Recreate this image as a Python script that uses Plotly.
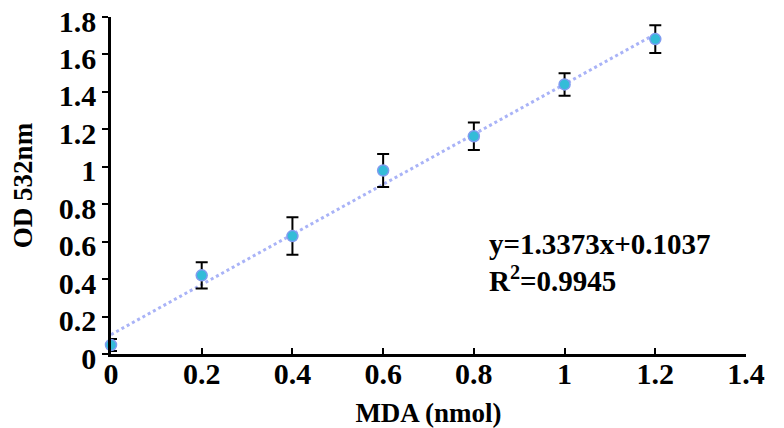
import plotly.graph_objects as go

mda = [0.0, 0.2, 0.4, 0.6, 0.8, 1.0, 1.2]
od = [0.048, 0.42, 0.63, 0.98, 1.163, 1.44, 1.682]
od_err = [0.032, 0.07, 0.1, 0.088, 0.074, 0.06, 0.074]
slope = 1.3373
intercept = 0.1037
r2 = 0.9945
x_ticks = [0, 0.2, 0.4, 0.6, 0.8, 1.0, 1.2, 1.4]
x_tick_labels = ["0", "0.2", "0.4", "0.6", "0.8", "1", "1.2", "1.4"]
y_ticks = [0, 0.2, 0.4, 0.6, 0.8, 1.0, 1.2, 1.4, 1.6, 1.8]
y_tick_labels = ["0", "0.2", "0.4", "0.6", "0.8", "1", "1.2", "1.4", "1.6", "1.8"]

fit_x = [mda[0], mda[-1]]
fit_y = [slope * v + intercept for v in fit_x]

font_family = "Liberation Serif, Times New Roman, serif"

fig = go.Figure()
fig.add_trace(go.Scatter(
    x=fit_x, y=fit_y, mode="lines",
    line=dict(color="#a9b3f7", width=3, dash="dot"),
    hoverinfo="skip", showlegend=False, cliponaxis=False,
))
fig.add_trace(go.Scatter(
    x=mda, y=od, mode="markers",
    marker=dict(size=11, color="#34bcd8", line=dict(color="#7f9cf0", width=1.5)),
    error_y=dict(type="data", array=od_err, visible=True, color="black", thickness=2, width=6),
    showlegend=False, cliponaxis=False,
))

fig.add_annotation(
    x=0.83, y=0.585, xref="x", yref="y", xanchor="left", yanchor="middle",
    text=f"<b>y={slope}x+{intercept}</b>", showarrow=False,
    font=dict(family=font_family, size=29, color="black"),
)
fig.add_annotation(
    x=0.83, y=0.40, xref="x", yref="y", xanchor="left", yanchor="middle",
    text=f"<b>R<sup>2</sup>={r2}</b>", showarrow=False,
    font=dict(family=font_family, size=29, color="black"),
)

# the page body has an 8px margin, so the figure is sized to fill the rest of the window
fig.update_layout(
    width=776, height=420,
    margin=dict(l=103, r=38, t=9, b=74),
    paper_bgcolor="white", plot_bgcolor="white",
    font=dict(family=font_family, color="black"),
    xaxis=dict(
        range=[0, 1.4], tickvals=x_ticks, ticktext=[f"<b>{t}</b>" for t in x_tick_labels],
        showline=True, linecolor="black", linewidth=2.5,
        ticks="inside", ticklen=6, tickwidth=2, tickcolor="black",
        showgrid=False, zeroline=False, automargin=False, ticklabeloverflow="allow",
        ticklabelstandoff=-9,
        tickfont=dict(family=font_family, size=30, color="black"),
        title=dict(text="<b>MDA (nmol)</b>", font=dict(family=font_family, size=27, color="black"), standoff=16),
    ),
    yaxis=dict(
        range=[0, 1.8], tickvals=y_ticks, ticktext=[f"<b>{t}</b>" for t in y_tick_labels],
        showline=True, linecolor="black", linewidth=2.5,
        ticks="outside", ticklen=6, tickwidth=2, tickcolor="black",
        showgrid=False, zeroline=False, automargin=False, ticklabeloverflow="allow",
        ticklabelshift=4,
        tickfont=dict(family=font_family, size=30, color="black"),
        title=dict(text="<b>OD 532nm</b>", font=dict(family=font_family, size=27, color="black"), standoff=31),
    ),
)

fig.write_html("out.html")
